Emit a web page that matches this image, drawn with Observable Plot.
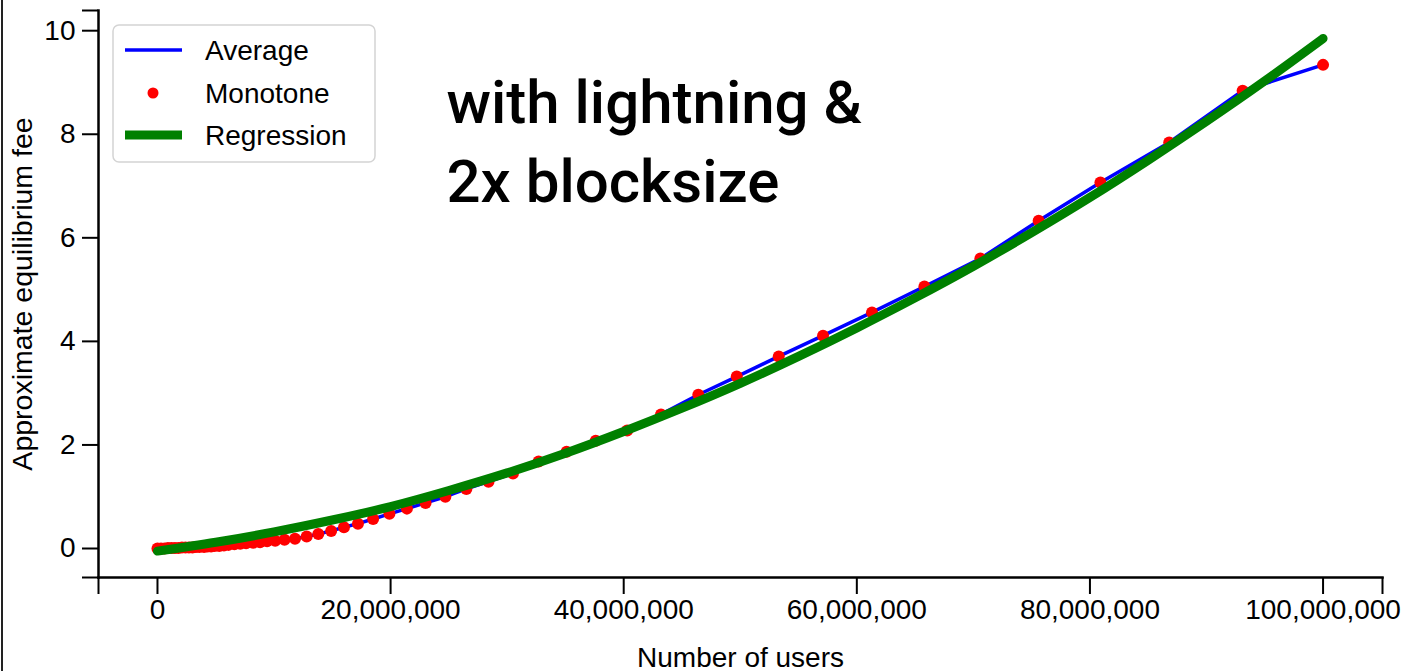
<!DOCTYPE html>
<html>
<head>
<meta charset="utf-8">
<script src="https://cdn.jsdelivr.net/npm/d3@7"></script>
<script src="https://cdn.jsdelivr.net/npm/@observablehq/plot@0.6"></script>
<style>
  html, body { margin: 0; padding: 0; background: #fff; }
  #wrap { position: relative; width: 1416px; height: 671px; overflow: hidden; }
  #edge { position: absolute; left: 1px; top: 0; width: 2px; height: 671px; background: #222; }
</style>
</head>
<body>
<div id="wrap"><div id="edge"></div></div>
<script>
// ---- data (users in millions) ----
const monoUsers = [0, 0.3, 0.6, 0.9, 1.2, 1.5, 1.8, 2.1, 2.4, 2.7, 3.0, 3.3, 3.6, 4.0, 4.3, 4.6, 4.9, 5.3, 5.7, 6.1, 6.6, 7.1, 7.6, 8.2, 8.8, 9.4, 10.1, 10.9, 11.8, 12.8, 13.8, 14.9, 16.0, 17.2, 18.5, 19.9, 21.4, 23.0, 24.7, 26.5, 28.4, 30.5, 32.7, 35.1, 37.6, 40.3, 43.2, 46.4, 49.7, 53.3, 57.1, 61.3, 65.8, 70.6, 75.6, 80.9, 86.8, 93.1, 100];
const monoFee = [0, 0, 0, 0.01, 0.01, 0.01, 0.01, 0.02, 0.02, 0.02, 0.02, 0.03, 0.03, 0.03, 0.04, 0.04, 0.05, 0.05, 0.06, 0.07, 0.08, 0.09, 0.10, 0.11, 0.12, 0.14, 0.15, 0.17, 0.19, 0.23, 0.28, 0.34, 0.41, 0.48, 0.57, 0.67, 0.77, 0.88, 1.00, 1.15, 1.29, 1.45, 1.68, 1.87, 2.08, 2.28, 2.59, 2.97, 3.32, 3.71, 4.11, 4.56, 5.06, 5.60, 6.33, 7.07, 7.84, 8.84, 9.34];
const avgUsers = monoUsers;
const avgFee = [0, 0, 0, 0.01, 0.01, 0.01, 0.01, 0.02, 0.02, 0.02, 0.02, 0.03, 0.03, 0.03, 0.04, 0.04, 0.05, 0.05, 0.06, 0.07, 0.08, 0.09, 0.10, 0.11, 0.12, 0.14, 0.15, 0.17, 0.19, 0.23, 0.28, 0.34, 0.41, 0.48, 0.57, 0.67, 0.77, 0.88, 1.00, 1.15, 1.29, 1.45, 1.68, 1.87, 2.08, 2.28, 2.59, 2.97, 3.32, 3.71, 4.11, 4.56, 5.06, 5.60, 6.33, 7.07, 7.84, 8.84, 9.34];
const regUsers = [0, 5, 10, 15, 20, 25, 30, 35, 40, 45, 50, 55, 60, 65, 70, 75, 80, 85, 90, 95, 100];
const regFee = [-0.05, 0.12, 0.32, 0.55, 0.81, 1.12, 1.46, 1.84, 2.26, 2.71, 3.19, 3.71, 4.26, 4.84, 5.45, 6.10, 6.78, 7.50, 8.25, 9.03, 9.85];
const xTicks = [0, 20, 40, 60, 80, 100];
const yTicks = [0, 2, 4, 6, 8, 10];
const xDomain = [-5.06, 105.1];
const yDomain = [-0.56, 10.39];
const seriesNames = ["Average", "Monotone", "Regression"];
const annotation = "with lightning &\n2x blocksize";

const mono = monoUsers.map((u, i) => ({u, f: monoFee[i]}));
const avg = avgUsers.map((u, i) => ({u, f: avgFee[i]}));
const reg = regUsers.map((u, i) => ({u, f: regFee[i]}));

const font = "'Liberation Sans', Arial, sans-serif";
const fmt = d3.format(",");

const chart = Plot.plot({
  width: 1416,
  height: 671,
  marginLeft: 98,
  marginRight: 34,
  marginTop: 10,
  marginBottom: 94,
  style: {fontFamily: font, background: "transparent", color: "#000"},
  x: {domain: xDomain},
  y: {domain: yDomain},
  marks: [
    Plot.frame({anchor: "left", stroke: "#000", strokeWidth: 2.5}),
    Plot.frame({anchor: "bottom", stroke: "#000", strokeWidth: 2.5}),
    Plot.axisX([...xDomain, ...xTicks], {
      tickSize: 17, tickPadding: 5, strokeWidth: 2, fontSize: 28, label: null,
      tickFormat: d => xTicks.includes(d) ? fmt(d * 1e6) : ""
    }),
    Plot.axisY([...yDomain, ...yTicks], {
      tickSize: 16, tickPadding: 7, strokeWidth: 2, fontSize: 28, label: null,
      tickFormat: d => yTicks.includes(d) ? String(d) : ""
    }),
    Plot.text(["Number of users"], {frameAnchor: "bottom", dy: 89, fontSize: 28, fill: "#000"}),
    Plot.text(["Approximate equilibrium fee"], {frameAnchor: "left", dx: -76, rotate: -90, textAnchor: "middle", fontSize: 28.5, fill: "#000"}),
    Plot.line(avg, {x: "u", y: "f", stroke: "blue", strokeWidth: 3.5}),
    Plot.dot(mono, {x: "u", y: "f", r: 6, fill: "red", stroke: "none"}),
    Plot.line(reg, {x: "u", y: "f", stroke: "green", strokeWidth: 9, curve: "natural"}),
    Plot.text([annotation], {frameAnchor: "top-left", dx: 348, dy: 56, textAnchor: "start", lineAnchor: "top",
      lineHeight: 1.32, fontSize: 60, fontFamily: "Roboto, sans-serif", fontWeight: 500, fill: "#000"})
  ]
});

// legend
const svg = d3.select(chart);
const lg = svg.append("g").attr("font-family", font).attr("font-size", 28).attr("text-anchor", "start");
lg.append("rect").attr("x", 113).attr("y", 25).attr("width", 262).attr("height", 137)
  .attr("rx", 6).attr("fill", "#fff").attr("fill-opacity", 0.8).attr("stroke", "#d4d4d4").attr("stroke-width", 1.5);
const rows = [
  {y: 50, kind: "line", color: "blue", w: 3.5},
  {y: 93, kind: "dot", color: "red"},
  {y: 135, kind: "line", color: "green", w: 9}
];
rows.forEach((r, i) => {
  if (r.kind === "line") {
    lg.append("line").attr("x1", 125).attr("x2", 182).attr("y1", r.y).attr("y2", r.y)
      .attr("stroke", r.color).attr("stroke-width", r.w);
  } else {
    lg.append("circle").attr("cx", 153).attr("cy", r.y).attr("r", 5.5).attr("fill", r.color);
  }
  lg.append("text").attr("x", 205).attr("y", r.y).attr("dy", "0.35em").attr("text-anchor", "start")
    .attr("fill", "#000").text(seriesNames[i]);
});

document.getElementById("wrap").appendChild(chart);
chart.style.position = "absolute";
chart.style.left = "0";
chart.style.top = "0";
</script>
</body>
</html>
